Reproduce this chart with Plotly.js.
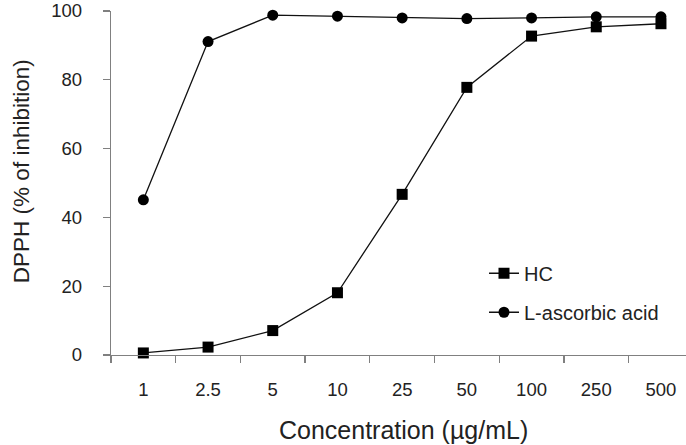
<!DOCTYPE html>
<html>
<head>
<meta charset="utf-8">
<script src="https://cdn.plot.ly/plotly-3.0.1.min.js"></script>
<style>html,body{margin:0;padding:0;background:#fff;}#chart{width:686px;height:445px;}</style>
</head>
<body>
<div id="chart"></div>
<script>
var concentrations = ["1", "2.5", "5", "10", "25", "50", "100", "250", "500"];
var hcValues = [0.6, 2.3, 7.1, 18.1, 46.7, 77.8, 92.7, 95.4, 96.3];
var ascorbicValues = [45.1, 91.1, 98.8, 98.5, 98.0, 97.8, 98.0, 98.3, 98.3];
var yTicks = [0, 20, 40, 60, 80, 100];

var FONT = "Liberation Sans, Arial, sans-serif";
var TXT = "#222";
var PL = 111, PT = 11, PW = 575, PH = 343.7;

var traces = [
  {
    x: concentrations, y: hcValues, name: "HC", type: "scatter", mode: "lines+markers",
    line: {color: "#111", width: 1.3},
    marker: {symbol: "square", size: 11, color: "#000"},
    cliponaxis: false, legend: "legend"
  },
  {
    x: concentrations, y: ascorbicValues, name: "L-ascorbic acid", type: "scatter", mode: "lines+markers",
    line: {color: "#111", width: 1.3},
    marker: {symbol: "circle", size: 11, color: "#000"},
    cliponaxis: false, legend: "legend2"
  }
];

var legendBase = {
  xref: "paper", yref: "paper", xanchor: "left", yanchor: "middle",
  bgcolor: "rgba(0,0,0,0)", borderwidth: 0,
  font: {family: FONT, size: 20, color: TXT}
};

var layout = {
  width: 686, height: 445,
  margin: {l: PL, r: 0, t: PT, b: 445 - PT - PH, pad: 0, autoexpand: false},
  paper_bgcolor: "#fff", plot_bgcolor: "#fff",
  font: {family: FONT, color: TXT},
  showlegend: true,
  legend: Object.assign({}, legendBase, {x: (484 - PL) / PW, y: (PT + PH - 273) / PH}),
  legend2: Object.assign({}, legendBase, {x: (484 - PL) / PW, y: (PT + PH - 312) / PH}),
  xaxis: {
    type: "category",
    categoryorder: "array", categoryarray: concentrations,
    range: [-0.5, 8.387],
    showgrid: false, zeroline: false,
    showline: true, linecolor: "#808080", linewidth: 1.3,
    ticks: "outside", ticklen: 7, tickcolor: "#808080", tickwidth: 1.3,
    tickson: "boundaries",
    ticklabelstandoff: 17, ticklabeloverflow: "allow",
    tickfont: {family: FONT, size: 18.5, color: TXT}
  },
  yaxis: {
    range: [0, 100],
    tickvals: yTicks, ticktext: yTicks.map(String),
    showgrid: false, zeroline: false,
    showline: true, linecolor: "#808080", linewidth: 1.3,
    ticks: "outside", ticklen: 7, tickcolor: "#808080", tickwidth: 1.3,
    ticklabelstandoff: 17, ticklabeloverflow: "allow",
    tickfont: {family: FONT, size: 18.5, color: TXT}
  },
  annotations: [
    {
      text: "Concentration (µg/mL)", xref: "paper", yref: "paper",
      x: (403.5 - PL) / PW, xanchor: "center",
      y: -(430 - PT - PH) / PH, yanchor: "middle",
      showarrow: false, font: {family: FONT, size: 25, color: TXT}
    },
    {
      text: "DPPH (% of inhibition)", xref: "paper", yref: "paper",
      x: -(PL - 21) / PW, xanchor: "center",
      y: (PT + PH - 171) / PH, yanchor: "middle",
      textangle: -90,
      showarrow: false, font: {family: FONT, size: 22.5, color: TXT}
    }
  ]
};

Plotly.newPlot("chart", traces, layout, {displayModeBar: false, staticPlot: true});
</script>
</body>
</html>
